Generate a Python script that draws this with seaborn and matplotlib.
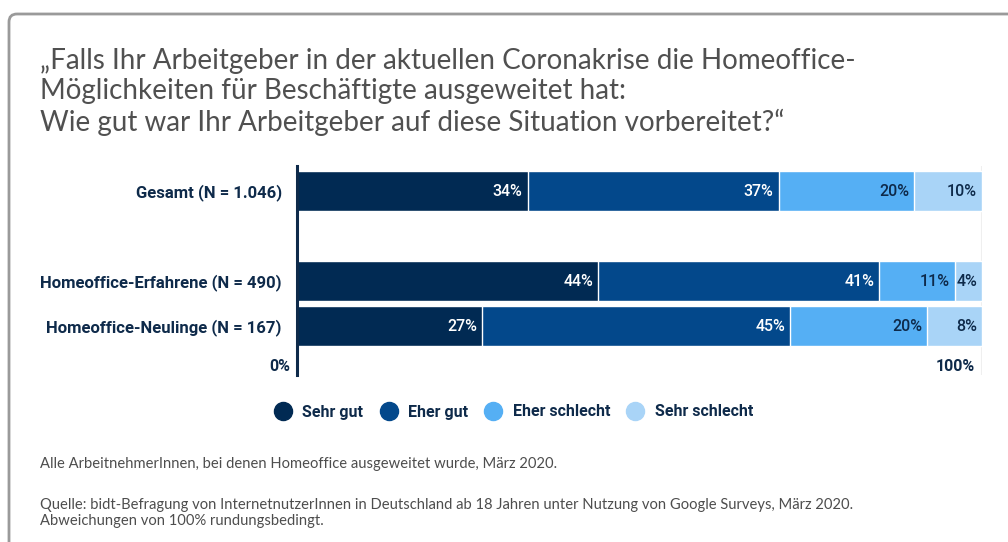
import matplotlib
matplotlib.use('Agg')
import matplotlib.pyplot as plt
import matplotlib.transforms as mtransforms
from matplotlib.patches import FancyBboxPatch
from matplotlib.lines import Line2D
import numpy as np
import pandas as pd
import seaborn as sns

groups = ['Gesamt (N = 1.046)', 'Homeoffice-Erfahrene (N = 490)', 'Homeoffice-Neulinge (N = 167)']
answers = ['Sehr gut', 'Eher gut', 'Eher schlecht', 'Sehr schlecht']
sehr_gut = [34, 44, 27]
eher_gut = [37, 41, 45]
eher_schlecht = [20, 11, 20]
sehr_schlecht = [10, 4, 8]
colors = ['#012a53', '#03488b', '#55aff4', '#a9d4f7']
label_colors = ['white', 'white', '#0e2a4a', '#0e2a4a']
navy = '#0e2a4a'

sns.set_theme(style='white')
plt.rcParams['font.family'] = ['Roboto', 'DejaVu Sans']

values = np.array([sehr_gut, eher_gut, eher_schlecht, sehr_schlecht], dtype=float)
# rows do not always sum to 100 (rounding), bars are drawn full width
shares = values / values.sum(axis=0) * 100
cum = shares.cumsum(axis=0)

order = [groups[0], ' ', groups[1], groups[2]]
rows = []
for i, answer in enumerate(answers):
    for j, group in enumerate(groups):
        rows.append({'group': group, 'answer': answer, 'value': values[i, j],
                     'end': cum[i, j], 'start': cum[i, j] - shares[i, j]})
df = pd.DataFrame(rows)

fig = plt.figure(figsize=(10.08, 5.42), dpi=100)
ax = fig.add_axes([297 / 1008, 1 - 375 / 542, 685 / 1008, 209 / 542])

ax.axvline(100, color='#efefef', lw=1.5, zorder=0)
# layered bars: largest cumulative first
for i in reversed(range(len(answers))):
    sub = df[df['answer'] == answers[i]]
    sns.barplot(data=sub, x='end', y='group', order=order, color=colors[i],
                width=0.89, orient='h', saturation=1, ax=ax, zorder=2)

shift = mtransforms.offset_copy(ax.transData, fig=fig, x=-5, y=0, units='dots')
for _, r in df.iterrows():
    i = answers.index(r['answer'])
    y = order.index(r['group'])
    ax.text(r['end'], y, f"{int(r['value'])}%", transform=shift, ha='right', va='center',
            color=label_colors[i], fontsize=11.5, fontweight='medium', zorder=3)

ax.set_xlim(0, 100)
ax.set_ylim(4.089, -0.556)
ax.set_xlabel('')
ax.set_ylabel('')
ax.set_xticks([])
ax.set_yticks(range(len(order)))
ax.set_yticklabels(order, fontsize=12, fontweight='bold', color=navy)
ax.tick_params(axis='y', length=0, pad=11)
for side in ['top', 'right', 'bottom']:
    ax.spines[side].set_visible(False)
ax.spines['left'].set_color(navy)
ax.spines['left'].set_linewidth(2.2)

tick_shift = mtransforms.offset_copy(ax.transData, fig=fig, x=-7, y=0, units='dots')
ax.text(0, 3.889, '0%', transform=tick_shift, ha='right', va='center',
        fontsize=11.5, fontweight='bold', color=navy)
ax.text(100, 3.889, '100%', transform=tick_shift, ha='right', va='center',
        fontsize=11.5, fontweight='bold', color=navy)

handles = [Line2D([0], [0], marker='o', linestyle='', markersize=13,
                  markerfacecolor=c, markeredgecolor=c) for c in colors]
fig.legend(handles, answers, loc='center', bbox_to_anchor=(510 / 1008, 1 - 412 / 542),
           ncol=4, frameon=False, handletextpad=0.2, columnspacing=0.6,
           prop={'family': 'Roboto', 'weight': 'bold', 'size': 11.5}, labelcolor=navy)

title = ('\u201eFalls Ihr Arbeitgeber in der aktuellen Coronakrise die Homeoffice-\n'
         'M\u00f6glichkeiten f\u00fcr Besch\u00e4ftigte ausgeweitet hat:\n'
         'Wie gut war Ihr Arbeitgeber auf diese Situation vorbereitet?\u201c')
fig.text(40 / 1008, 1 - 92 / 542, title, ha='left', va='center', fontsize=20,
         family='Lato', fontweight='normal', color='#505050', linespacing=1.22)

foot = '#4d4d4d'
fig.text(40 / 1008, 1 - 464 / 542, 'Alle ArbeitnehmerInnen, bei denen Homeoffice ausgeweitet wurde, M\u00e4rz 2020.',
         ha='left', va='center', fontsize=10.6, family='Lato', color=foot)
fig.text(40 / 1008, 1 - 513 / 542,
         'Quelle: bidt-Befragung von InternetnutzerInnen in Deutschland ab 18 Jahren unter Nutzung von Google Surveys, M\u00e4rz 2020.\n'
         'Abweichungen von 100% rundungsbedingt.',
         ha='left', va='center', fontsize=10.6, family='Lato', color=foot, linespacing=1.1)

# card frame
frame = FancyBboxPatch((9, -40), 1100, 541 - 13 + 40, boxstyle='round,pad=0,rounding_size=8',
                       transform=None, facecolor='none', edgecolor='#9a9a9a', lw=2)
fig.patches.append(frame)

fig.savefig('out.png', dpi=100)
